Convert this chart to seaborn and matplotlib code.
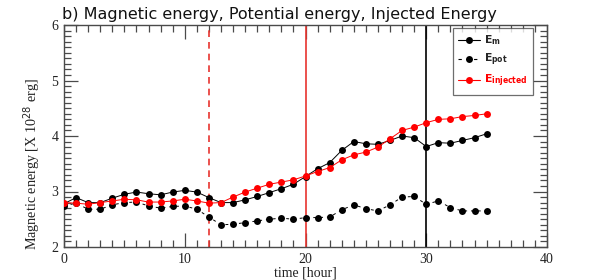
import matplotlib
matplotlib.use("Agg")
import matplotlib.pyplot as plt
import seaborn as sns
import pandas as pd
from matplotlib.lines import Line2D
from matplotlib.ticker import MultipleLocator

time_hours = list(range(36))
e_m = [2.78, 2.89, 2.80, 2.80, 2.88, 2.95, 2.99, 2.96, 2.94, 2.99, 3.02, 2.99,
       2.89, 2.80, 2.80, 2.85, 2.91, 2.98, 3.05, 3.13, 3.27, 3.41, 3.52, 3.74,
       3.90, 3.86, 3.85, 3.92, 4.00, 3.97, 3.81, 3.88, 3.87, 3.92, 3.97, 4.04]
e_pot = [2.74, 2.79, 2.68, 2.68, 2.76, 2.80, 2.81, 2.74, 2.70, 2.73, 2.74, 2.68,
         2.54, 2.40, 2.41, 2.44, 2.47, 2.50, 2.52, 2.50, 2.53, 2.53, 2.54, 2.67,
         2.76, 2.69, 2.65, 2.76, 2.90, 2.91, 2.77, 2.83, 2.71, 2.65, 2.65, 2.65]
e_inj = [2.80, 2.79, 2.77, 2.80, 2.83, 2.86, 2.85, 2.81, 2.81, 2.83, 2.86, 2.83,
         2.79, 2.80, 2.90, 2.99, 3.06, 3.13, 3.17, 3.21, 3.28, 3.36, 3.43, 3.57,
         3.66, 3.71, 3.80, 3.95, 4.10, 4.16, 4.24, 4.30, 4.31, 4.35, 4.37, 4.40]
event_times = [12, 20, 30]
x_ticks = [0, 10, 20, 30, 40]
y_ticks = [2, 3, 4, 5, 6]

df = pd.DataFrame({"t": time_hours, "Em": e_m, "Epot": e_pot, "Einj": e_inj})

sns.set_style("white")
plt.rcParams['font.family'] = ['DejaVu Sans']

fig = plt.figure(figsize=(5.98, 2.80), dpi=100)
ax = fig.add_axes([64/598, 1-247/280, (547-64)/598, (247-25)/280])

frame = '#4a4a4a'
ax.axvline(event_times[0], color='#e8342f', lw=1.2, ls=(0, (4, 3)), zorder=1)
ax.axvline(event_times[1], color='#e8342f', lw=1.2, zorder=1)
ax.axvline(event_times[2], color='black', lw=1.2, zorder=1)

sns.lineplot(data=df, x="t", y="Em", ax=ax, color='black', lw=0.7,
             marker='o', markersize=5, markeredgewidth=0, zorder=3)
sns.lineplot(data=df, x="t", y="Epot", ax=ax, color='black', lw=0.7,
             linestyle=(0, (3, 4)), marker='o', markersize=5,
             markeredgewidth=0, zorder=3)
sns.lineplot(data=df, x="t", y="Einj", ax=ax, color='#ff0000', lw=0.7,
             marker='o', markersize=5, markeredgewidth=0, zorder=4)

ax.set_xlim(0, 40)
ax.set_ylim(2, 6)
ax.set_xticks(x_ticks)
ax.set_yticks(y_ticks)
ax.xaxis.set_minor_locator(MultipleLocator(1))
ax.yaxis.set_minor_locator(MultipleLocator(0.1))
ax.tick_params(which='both', direction='in', top=True, right=True,
               bottom=True, left=True, color=frame, width=0.9)
ax.tick_params(which='major', length=10, labelsize=10, pad=4)
ax.tick_params(which='minor', length=5)
for lab in ax.get_xticklabels() + ax.get_yticklabels():
    lab.set_family('Liberation Serif')
    lab.set_color('#222222')
for s in ax.spines.values():
    s.set_color(frame)
    s.set_linewidth(1.0)

ax.set_xlabel("time [hour]", family='Liberation Serif', fontsize=10, labelpad=1,
              color='#222222')
ax.set_ylabel(r"Magnetic energy [X 10$^{28}$ erg]", family='Liberation Serif',
              fontsize=10.2, color='#222222')
ax.yaxis.set_label_coords(-0.043, 0.375)
ax.set_title("b) Magnetic energy, Potential energy, Injected Energy",
             loc='left', fontsize=11.5, pad=4, color='#111111', x=-0.004)

handles = [
    Line2D([], [], color='black', lw=0.8, marker='o', markersize=5, markeredgewidth=0),
    Line2D([], [], color='black', lw=0.8, ls=(0, (3, 4)), marker='o', markersize=5, markeredgewidth=0),
    Line2D([], [], color='#ff0000', lw=0.8, marker='o', markersize=5, markeredgewidth=0),
]
labels = [r"$\mathbf{E_m}$", r"$\mathbf{E_{pot}}$", r"$\mathbf{E_{injected}}$"]
leg = ax.legend(handles, labels, loc='upper right', bbox_to_anchor=(0.971, 0.986),
                frameon=True, fancybox=False, edgecolor=frame, fontsize=7.8,
                handlelength=2.0, handletextpad=0.4, labelspacing=0.42,
                borderpad=0.5, borderaxespad=0.0)
leg.get_frame().set_linewidth(0.9)
leg.get_texts()[2].set_color('#ff0000')

fig.savefig("out.png", dpi=100)
